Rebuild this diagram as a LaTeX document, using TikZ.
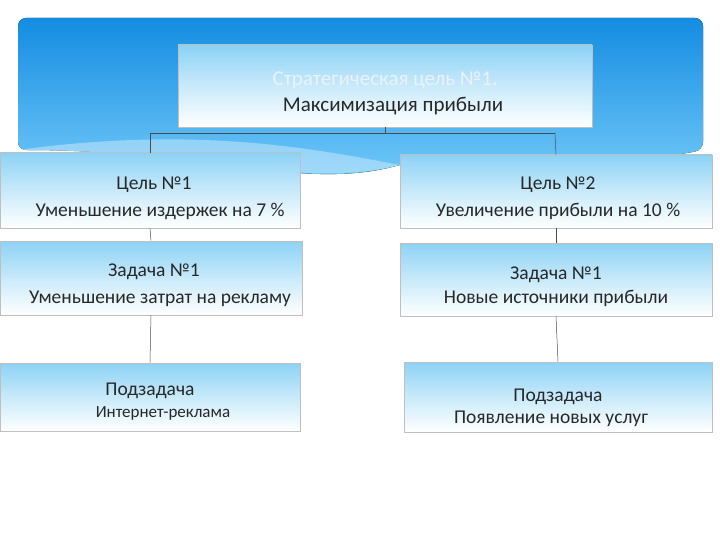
\documentclass[tikz,border=0pt]{standalone}
\usepackage{fontspec}
\setmainfont{Carlito}
\definecolor{boxtop}{RGB}{140,210,245}
\definecolor{boxmid}{RGB}{200,234,250}
\definecolor{bgtop}{RGB}{20,140,225}
\definecolor{bgbot}{RGB}{120,205,250}
\definecolor{txt}{RGB}{40,40,40}
\definecolor{ttl}{RGB}{235,242,250}
\begin{document}
\begin{tikzpicture}[x=1pt,y=-1pt,
 bx/.style={draw=black!25,line width=0.6pt,top color=boxtop,bottom color=white,middle color=boxmid,minimum height=#1},
 tx/.style={font=\fontsize{19.5}{22}\selectfont,text=txt,align=center},
 ln/.style={draw=black!70,line width=0.5pt}]
\useasboundingbox (0,0) rectangle (720,540);
\fill[top color=bgtop,bottom color=bgbot,rounded corners=8pt]
 (18,18) -- (703,18) -- (703,150) .. controls (600,170) and (500,140) .. (400,165) .. controls (300,190) and (200,150) .. (18,150) -- cycle;
\fill[white,opacity=0.35] (18,150) .. controls (200,125) and (320,150) .. (400,165) .. controls (300,190) and (200,150) .. (18,150);
\node[bx=82pt,minimum width=414pt] (top) at (385,86) {};
\node[tx,text=ttl,font=\fontsize{21}{24}\selectfont] at (385,80) {Стратегическая цель №1.};
\node[tx,font=\fontsize{21}{24}\selectfont] at (393,106) {Максимизация прибыли};
\node[bx=75pt,minimum width=300pt] (l1) at (150,190.5) {};
\node[bx=73pt,minimum width=312pt] (r1) at (556,191.5) {};
\node[bx=74pt,minimum width=302pt] (l2) at (151,278) {};
\node[bx=73pt,minimum width=312pt] (r2) at (556,279.5) {};
\node[bx=68pt,minimum width=300pt] (l3) at (150,397) {};
\node[bx=70pt,minimum width=308pt] (r3) at (558,397) {};
\coordinate (j) at (385,133);
\draw[ln] (top.south) -- (j);
\draw[ln] (150,133) -- (555,133);
\draw[ln] (150,133) -- (l1.north);
\draw[ln] (555,133) -- (r1.north);
\draw[ln] (l1.south) -- (l2.north); \draw[ln] (l2.south) -- (l3.north);
\draw[ln] (r1.south) -- (r2.north); \draw[ln] (r2.south) -- (r3.north);
\node[tx] at (154,185) {Цель №1}; \node[tx] at (160,211) {Уменьшение издержек на 7 \%};
\node[tx] at (558,185) {Цель №2}; \node[tx] at (558,211) {Увеличение прибыли на 10 \%};
\node[tx] at (154,272) {Задача №1}; \node[tx] at (160,299) {Уменьшение затрат на рекламу};
\node[tx] at (556,275) {Задача №1}; \node[tx] at (556,298) {Новые источники прибыли};
\node[tx] at (150,391) {Подзадача}; \node[tx,font=\fontsize{17}{20}\selectfont] at (163,413) {Интернет-реклама};
\node[tx] at (558,397) {Подзадача}; \node[tx] at (551,419) {Появление новых услуг};
\end{tikzpicture}
\end{document}
